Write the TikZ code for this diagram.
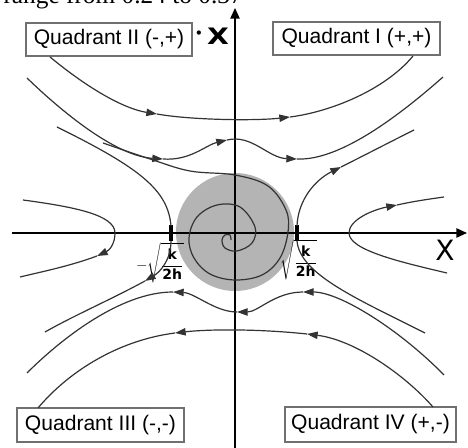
\documentclass[tikz,border=0pt]{standalone}
\usepackage{fontspec}
\setmainfont{Liberation Sans}
\setsansfont{DejaVu Sans}
\newfontfamily\seriffont{Liberation Serif}
\newfontfamily\dvfont{DejaVu Sans}
\usetikzlibrary{arrows.meta}
\definecolor{flowc}{HTML}{333333}
\definecolor{diskc}{HTML}{B4B4B4}
\definecolor{boxc}{HTML}{707070}
\tikzset{
  flow/.style={draw=flowc, line width=0.9pt},
  tip/.style={-{Triangle[length=8pt,width=5.5pt]}},
  qbox/.style={draw=boxc, line width=0.8pt, inner sep=0pt, fill=white,
    font=\fontsize{15.8}{18}\selectfont},
  axis/.style={draw=black, line width=1.1pt, -{Triangle[length=8pt,width=7pt]}},
  tickmark/.style={draw=black, line width=2.6pt},
  rootlbl/.style={inner sep=0pt, font=\fontsize{10.5}{12}\selectfont}
}
\newcommand{\bsk}{\textsf{\bfseries k}}
\newcommand{\bstwoh}{\textsf{\bfseries 2h}}
\begin{document}
\begin{tikzpicture}[x=0.75pt,y=-0.75pt]
\useasboundingbox (0,0) rectangle (468,448);
\clip (0,0) rectangle (468,448);
% partial caption at the top edge
\node[anchor=base east, inner sep=0pt, font=\seriffont\fontsize{19}{20}\selectfont] (cap) at (243,3.5) {range from 0.24 to 0.37};
% gray disk
\fill[diskc] (235,232) circle (59);
% axes
\draw[axis] (235,448) -- (235,8);
\draw[axis] (12,233) -- (467,233);
% ticks
\draw[tickmark] (171,225) -- (171,241);
\draw[tickmark] (297,225) -- (297,241);
% labels on axes
\node[inner sep=0pt, font=\dvfont\fontsize{21}{24}\selectfont] (xl) at (445,250) {X};
\node[inner sep=0pt, font=\dvfont\fontsize{11}{11}\selectfont] (dot) at (199,35) {•};
\node[inner sep=0pt, font=\dvfont\bfseries\fontsize{17}{20}\selectfont] (xd) at (218,36) {\scalebox{1.25}[1]{X}};
\node[rootlbl] (rl) at (160,263) {$\displaystyle-\sqrt{\frac{\bsk}{\bstwoh}}$};
\node[rootlbl] (rr) at (299,260) {$\displaystyle\sqrt{\frac{\bsk}{\bstwoh}}$};
% quadrant boxes
\node[qbox, minimum width=124.5pt, minimum height=24.75pt] (q2) at (109,39.5) {Quadrant II (-,+)};
\node[qbox, minimum width=125.25pt, minimum height=24.75pt] (q1) at (356.5,38.5) {Quadrant I (+,+)};
\node[qbox, minimum width=125.25pt, minimum height=25.5pt] (q3) at (100.5,425) {Quadrant III (-,-)};
\node[qbox, minimum width=128.25pt, minimum height=26.25pt] (q4) at (370.5,424.5) {Quadrant IV (+,-)};
% line A (top)
\draw[flow,tip] (50,57) .. controls (90,90) and (125,109) .. (157,114);
\draw[flow,tip] (157,114) .. controls (190,120) and (255,121) .. (290,117);
\draw[flow] (290,117) .. controls (330,112) and (385,90) .. (413,56);
% line B
\draw[flow,tip] (27,78) .. controls (60,110) and (115,156) .. (163,159);
\draw[flow,tip] (163,159) .. controls (190,161) and (206,145) .. (227,140);
\draw[flow,tip] (227,140) .. controls (252,134) and (268,158) .. (297,159);
\draw[flow] (297,159) .. controls (340,161) and (400,115) .. (443,77);
% upper-left separatrix
\draw[flow] (171,226) .. controls (168,190) and (140,168) .. (57,127);
% line into spiral
\draw[flow] plot[smooth, tension=0.6] coordinates {(103,143) (150,159) (190,171) (235,175) (268,186) (286,210) (288,232) (280,258) (262,275) (235,280) (210,274) (194,258) (189,238) (197,217) (217,205) (240,207) (255,227) (252,243) (237,251) (225,248) (222,240) (225,235) (230,235) (231,240)};
% upper-right separatrix
\draw[flow,tip] (297,226) .. controls (298,200) and (315,180) .. (341,167);
\draw[flow] (341,167) .. controls (365,155) and (390,142) .. (414,130);
% left parabola
\draw[flow] (23,200) .. controls (75,207) and (115,215) .. (115,233);
\draw[flow,tip] (115,233) .. controls (115,243) and (110,250) .. (97,256);
\draw[flow] (97,256) .. controls (70,266) and (45,271) .. (20,277);
% right parabola
\draw[flow] (447,273) .. controls (400,262) and (349,250) .. (349,233);
\draw[flow,tip] (349,233) .. controls (349,220) and (372,210) .. (397,205);
\draw[flow] (397,205) .. controls (415,201) and (430,199) .. (444,197);
% lower-left separatrix
\draw[flow,tip] (171,241) .. controls (171,260) and (160,272) .. (145,281);
\draw[flow] (145,281) .. controls (110,300) and (75,315) .. (45,332);
% lower-right separatrix
\draw[flow] (297,241) .. controls (300,275) and (360,300) .. (425,333);
% line G
\draw[flow,tip] (444,375) .. controls (400,330) and (340,292) .. (303,292);
\draw[flow,tip] (303,292) .. controls (275,292) and (258,312) .. (237,312);
\draw[flow,tip] (237,312) .. controls (215,312) and (195,293) .. (173,292);
\draw[flow] (173,292) .. controls (120,292) and (60,340) .. (27,373);
% line H (bottom)
\draw[flow,tip] (433,407) .. controls (405,375) and (355,340) .. (307,334);
\draw[flow,tip] (307,334) .. controls (260,329) and (210,329) .. (175,333);
\draw[flow] (175,333) .. controls (120,340) and (70,370) .. (38,408);
\end{tikzpicture}
\end{document}
